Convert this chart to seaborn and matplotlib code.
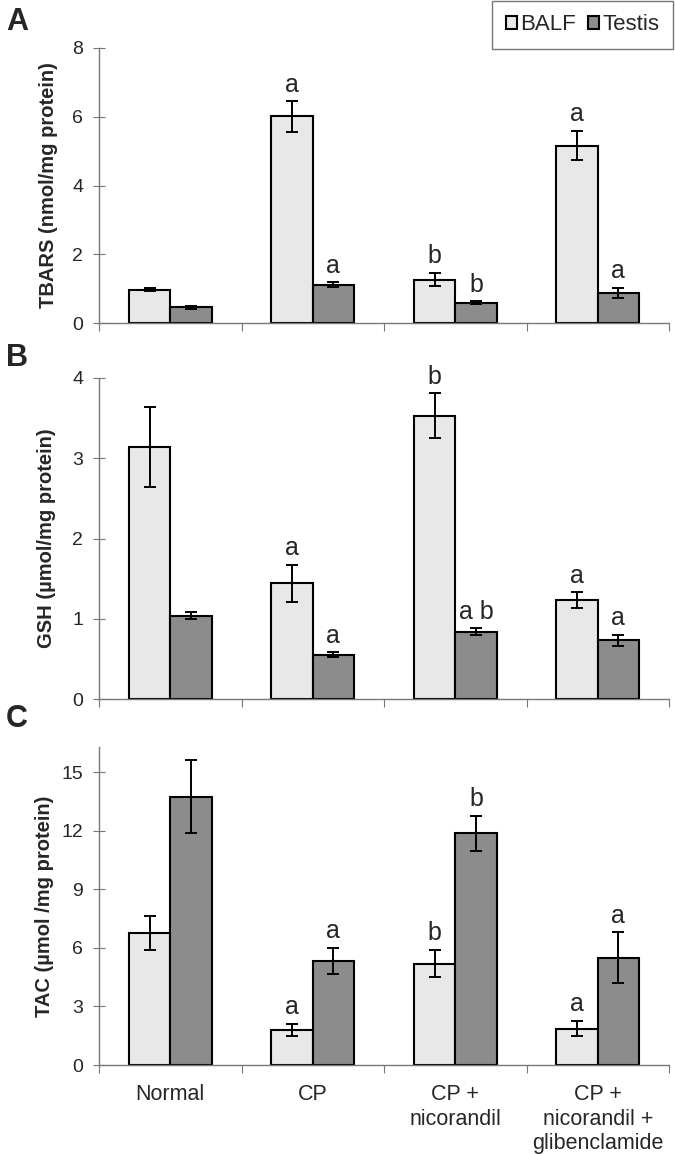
import numpy as np
import pandas as pd
import matplotlib
matplotlib.use("Agg")
import matplotlib.pyplot as plt
import seaborn as sns

groups = ["Normal", "CP", "CP +\nnicorandil", "CP +\nnicorandil +\nglibenclamide"]
tissues = ["BALF", "Testis"]

tbars_balf = [0.97, 6.01, 1.26, 5.16]
tbars_balf_err = [0.04, 0.44, 0.19, 0.42]
tbars_testis = [0.46, 1.12, 0.59, 0.88]
tbars_testis_err = [0.04, 0.06, 0.04, 0.15]
tbars_balf_sig = ["", "a", "b", "a"]
tbars_testis_sig = ["", "a", "b", "a"]

gsh_balf = [3.14, 1.44, 3.53, 1.23]
gsh_balf_err = [0.50, 0.23, 0.28, 0.10]
gsh_testis = [1.04, 0.55, 0.84, 0.73]
gsh_testis_err = [0.04, 0.03, 0.04, 0.07]
gsh_balf_sig = ["", "a", "b", "a"]
gsh_testis_sig = ["", "a", "a b", "a"]

tac_balf = [6.77, 1.80, 5.19, 1.87]
tac_balf_err = [0.86, 0.30, 0.70, 0.40]
tac_testis = [13.75, 5.33, 11.88, 5.50]
tac_testis_err = [1.87, 0.69, 0.90, 1.30]
tac_balf_sig = ["", "a", "b", "a"]
tac_testis_sig = ["", "a", "b", "a"]

COLORS = {"BALF": "#e8e8e8", "Testis": "#8c8c8c"}

sns.set_style("white")
plt.rcParams["font.family"] = ["Liberation Sans", "DejaVu Sans"]

fig = plt.figure(figsize=(6.75, 11.54), dpi=100)
W, H = 675, 1154
LEFT, RIGHT = 99, 669


def make_ax(top, bottom):
    return fig.add_axes([LEFT / W, 1 - bottom / H, (RIGHT - LEFT) / W, (bottom - top) / H])


def panel(ax, balf, balf_err, testis, testis_err, balf_sig, testis_sig, ymax, ticks,
          ylabel, letter, letter_y, label_x):
    df = pd.DataFrame({
        "group": groups * 2,
        "tissue": ["BALF"] * 4 + ["Testis"] * 4,
        "value": balf + testis,
    })
    sns.barplot(data=df, x="group", y="value", hue="tissue", hue_order=tissues,
                order=groups, palette=COLORS, width=0.58, errorbar=None,
                edgecolor="black", linewidth=1.5, saturation=1, ax=ax, legend=letter == "A")
    errs = balf_err + testis_err
    sigs = balf_sig + testis_sig
    vals = balf + testis
    bars = [p for p in ax.patches if p.get_height() > 0][:8]
    for p, v, e, s in zip(bars, vals, errs, sigs):
        cx = p.get_x() + p.get_width() / 2
        ax.errorbar(cx, v, yerr=e, color="black", capsize=4.5, elinewidth=1.4, capthick=1.4)
        if s:
            ax.annotate(s, (cx, v + e), xytext=(0, 7), textcoords="offset points",
                        ha="center", va="baseline", fontsize=18)
    ax.set_ylim(0, ymax)
    ax.set_xlim(-0.5, 3.5)
    ax.set_yticks(ticks)
    ax.set_ylabel(ylabel, fontsize=14.5, fontweight="bold")
    ax.yaxis.set_label_coords((label_x - LEFT) / (RIGHT - LEFT), 0.5)
    ax.set_xlabel("")
    ax.set_xticks([-0.5, 0.5, 1.5, 2.5, 3.5])
    ax.tick_params(axis="y", direction="inout", length=9, width=0.8, color="#777777",
                   labelsize=14, left=True, pad=7)
    ax.tick_params(axis="x", direction="out", length=6, width=0.8, color="#777777",
                   bottom=True, labelbottom=False)
    for sp in ["top", "right"]:
        ax.spines[sp].set_visible(False)
    for sp in ["left", "bottom"]:
        ax.spines[sp].set_color("#777777")
        ax.spines[sp].set_linewidth(1.0)
    fig.text(6 / W, 1 - letter_y / H, letter, fontsize=22, fontweight="bold", va="center")


ax_a = make_ax(48, 323)
panel(ax_a, tbars_balf, tbars_balf_err, tbars_testis, tbars_testis_err,
      tbars_balf_sig, tbars_testis_sig, 8, [0, 2, 4, 6, 8],
      "TBARS (nmol/mg protein)", "A", 22, 58)
handles, labels = ax_a.get_legend_handles_labels()
ax_a.get_legend().remove()
leg = fig.legend(handles, labels, loc="upper right", bbox_to_anchor=(673 / W, 1 - 1 / H),
                 ncol=2, fontsize=16, frameon=True, fancybox=False, edgecolor="#555555",
                 handlelength=0.5, handleheight=0.5, handletextpad=0.15, columnspacing=0.55,
                 borderpad=0.6, borderaxespad=0)
leg.get_frame().set_linewidth(1.0)

ax_b = make_ax(378, 699)
panel(ax_b, gsh_balf, gsh_balf_err, gsh_testis, gsh_testis_err,
      gsh_balf_sig, gsh_testis_sig, 4, [0, 1, 2, 3, 4],
      "GSH (µmol/mg protein)", "B", 358, 56)

ax_c = make_ax(747, 1065)
panel(ax_c, tac_balf, tac_balf_err, tac_testis, tac_testis_err,
      tac_balf_sig, tac_testis_sig, 16.3, [0, 3, 6, 9, 12, 15],
      "TAC (µmol /mg protein)", "C", 719, 54)
ax_c.set_xticks([0, 1, 2, 3], labels=groups, minor=True)
ax_c.tick_params(axis="x", which="minor", length=0, labelsize=15.5, pad=14, labelbottom=True)
for t in ax_c.get_xticklabels(minor=True):
    t.set_linespacing(1.2)

fig.savefig("out.png", dpi=100)
